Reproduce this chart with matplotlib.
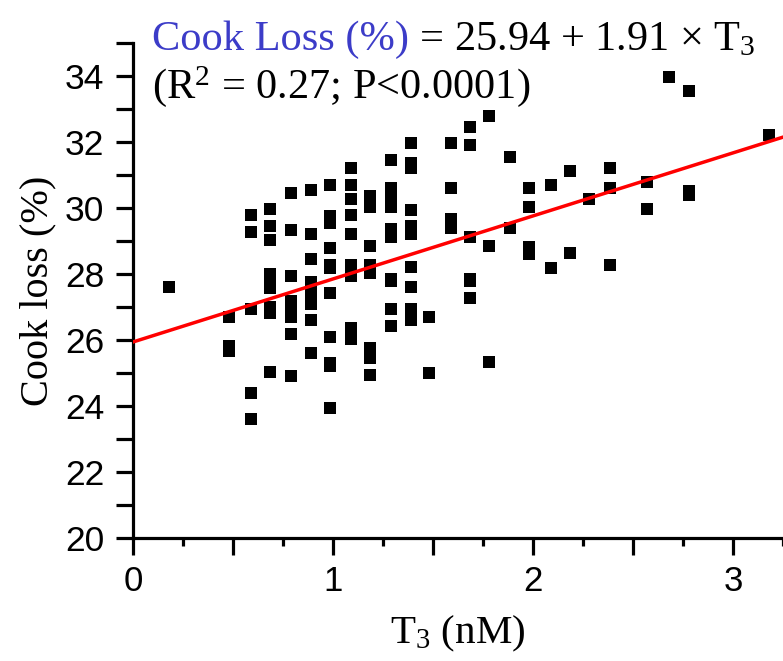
import matplotlib
matplotlib.use("Agg")
import matplotlib.pyplot as plt
from matplotlib.ticker import MultipleLocator, FixedLocator, FuncFormatter

# T3 (nM) and cook loss (%) for each sample
t3 = [
    0.18,
    0.48, 0.48, 0.48,
    0.59, 0.59, 0.59, 0.59, 0.59,
    0.685, 0.685, 0.685, 0.685, 0.685, 0.685, 0.685, 0.685, 0.685,
    0.79, 0.79, 0.79, 0.79, 0.79, 0.79, 0.79, 0.79,
    0.89, 0.89, 0.89, 0.89, 0.89, 0.89, 0.89, 0.89, 0.89,
    0.985, 0.985, 0.985, 0.985, 0.985, 0.985, 0.985, 0.985, 0.985, 0.985, 0.985,
    1.09, 1.09, 1.09, 1.09, 1.09, 1.09, 1.09, 1.09, 1.09,
    1.185, 1.185, 1.185, 1.185, 1.185, 1.185, 1.185, 1.185,
    1.29, 1.29, 1.29, 1.29, 1.29, 1.29, 1.29, 1.29, 1.29, 1.29,
    1.39, 1.39, 1.39, 1.39, 1.39, 1.39, 1.39, 1.39, 1.39, 1.39,
    1.48, 1.48,
    1.59, 1.59, 1.59, 1.59,
    1.685, 1.685, 1.685, 1.685, 1.685, 1.685,
    1.78, 1.78, 1.78,
    1.885, 1.885,
    1.98, 1.98, 1.98, 1.98,
    2.09, 2.09,
    2.185, 2.185,
    2.28,
    2.385, 2.385, 2.385,
    2.57, 2.57,
    2.68,
    2.78, 2.78, 2.78,
    3.18,
]
cook_loss = [
    27.62,
    26.71, 25.83, 25.68,
    29.79, 29.28, 26.95, 24.38, 23.62,
    29.96, 29.45, 29.03, 28.00, 27.79, 27.58, 27.00, 26.83, 25.04,
    30.45, 29.33, 27.94, 27.17, 26.93, 26.70, 26.18, 24.90,
    30.55, 29.20, 28.45, 27.77, 27.55, 27.32, 27.09, 26.60, 25.60,
    30.70, 29.77, 29.55, 28.78, 28.26, 28.19, 27.43, 26.10, 25.30, 25.20, 23.93,
    31.20, 30.70, 30.27, 29.79, 29.20, 28.28, 27.93, 26.36, 26.02,
    30.36, 30.03, 28.86, 28.28, 28.02, 25.76, 25.44, 24.94,
    31.45, 30.61, 30.32, 30.03, 29.37, 29.12, 27.85, 27.79, 26.93, 26.43,
    31.96, 31.36, 31.20, 29.94, 29.45, 29.20, 28.20, 27.62, 26.94, 26.62,
    26.70, 25.00,
    31.96, 30.60, 29.67, 29.40,
    32.46, 31.90, 29.13, 27.86, 27.79, 27.26,
    32.79, 28.86, 25.34,
    31.55, 29.38,
    30.60, 30.04, 28.82, 28.60,
    30.70, 28.19,
    31.13, 28.63,
    30.27,
    31.20, 30.60, 28.27,
    30.80, 29.96,
    33.98,
    33.55, 30.53, 30.38,
    32.21,
]

# Fitted regression: cook loss = intercept + slope * T3
intercept = 25.94
slope = 1.91
r_squared = 0.27
p_text = "P<0.0001"

x_limits = (0.0, 3.25)
y_limits = (20, 35)

serif = "Liberation Serif"
sans = "Liberation Sans"
plt.rcParams["mathtext.fontset"] = "custom"
plt.rcParams["mathtext.rm"] = serif
plt.rcParams["mathtext.it"] = serif + ":italic"

W, H = 783, 661
fig = plt.figure(figsize=(W / 100, H / 100), dpi=100)
ax = fig.add_axes([133 / W, 123 / H, 650 / W, 495 / H])

ax.scatter(t3, cook_loss, marker="s", s=8.5 ** 2, c="black",
           linewidths=0, zorder=3, clip_on=False)

fit_x = list(x_limits)
fit_y = [intercept + slope * v for v in fit_x]
ax.plot(fit_x, fit_y, color="#ff0000", lw=2.5, zorder=4)

ax.set_xlim(*x_limits)
ax.set_ylim(*y_limits)

lw = 2.3
for side in ("top", "right"):
    ax.spines[side].set_visible(False)
for side in ("left", "bottom"):
    ax.spines[side].set_linewidth(lw)

ax.xaxis.set_major_locator(MultipleLocator(0.5))
ax.xaxis.set_minor_locator(FixedLocator([0.25, 0.75, 1.25, 1.75, 2.25, 2.75, 3.25]))
ax.xaxis.set_major_formatter(FuncFormatter(
    lambda v, pos: f"{v:.0f}" if abs(v - round(v)) < 1e-6 else ""))
ax.yaxis.set_major_locator(MultipleLocator(2))
ax.yaxis.set_minor_locator(MultipleLocator(1))

ax.tick_params(axis="x", which="major", direction="out", length=12.5, width=lw,
               pad=7, labelsize=25)
ax.tick_params(axis="x", which="minor", direction="out", length=6, width=lw)
ax.tick_params(axis="y", which="both", direction="out", length=12.5, width=lw,
               pad=8, labelsize=25.5)
for lab in ax.get_xticklabels() + ax.get_yticklabels():
    lab.set_fontfamily(sans)
for t in ax.xaxis.get_minor_ticks():
    t.tick1line.set_clip_on(False)

ax.set_xlabel(r"T$_3$ (nM)", fontfamily=serif, fontsize=29.5, labelpad=11)
ax.set_ylabel("Cook loss (%)", fontfamily=serif, fontsize=29, labelpad=6)

# Regression equation: coloured response name followed by the fitted formula
fs_eq = 30.5
eq_x, eq_y1, eq_y2 = 152, H - 50, H - 98
t1 = fig.text(eq_x / W, eq_y1 / H, "Cook Loss (%)", color="#3c3cc8",
              fontfamily=serif, fontsize=fs_eq, va="baseline", ha="left")
fig.canvas.draw()
bb = t1.get_window_extent()
fig.text(bb.x1 / W, eq_y1 / H,
         rf" = {intercept:.2f} + {slope:.2f} $\times$ T$_3$",
         color="black", fontfamily=serif, fontsize=fs_eq, va="baseline", ha="left")
fig.text(eq_x / W, eq_y2 / H,
         rf"(R$^2$ = {r_squared:.2f}; {p_text})",
         color="black", fontfamily=serif, fontsize=fs_eq, va="baseline", ha="left")

fig.savefig("out.png", dpi=100)
